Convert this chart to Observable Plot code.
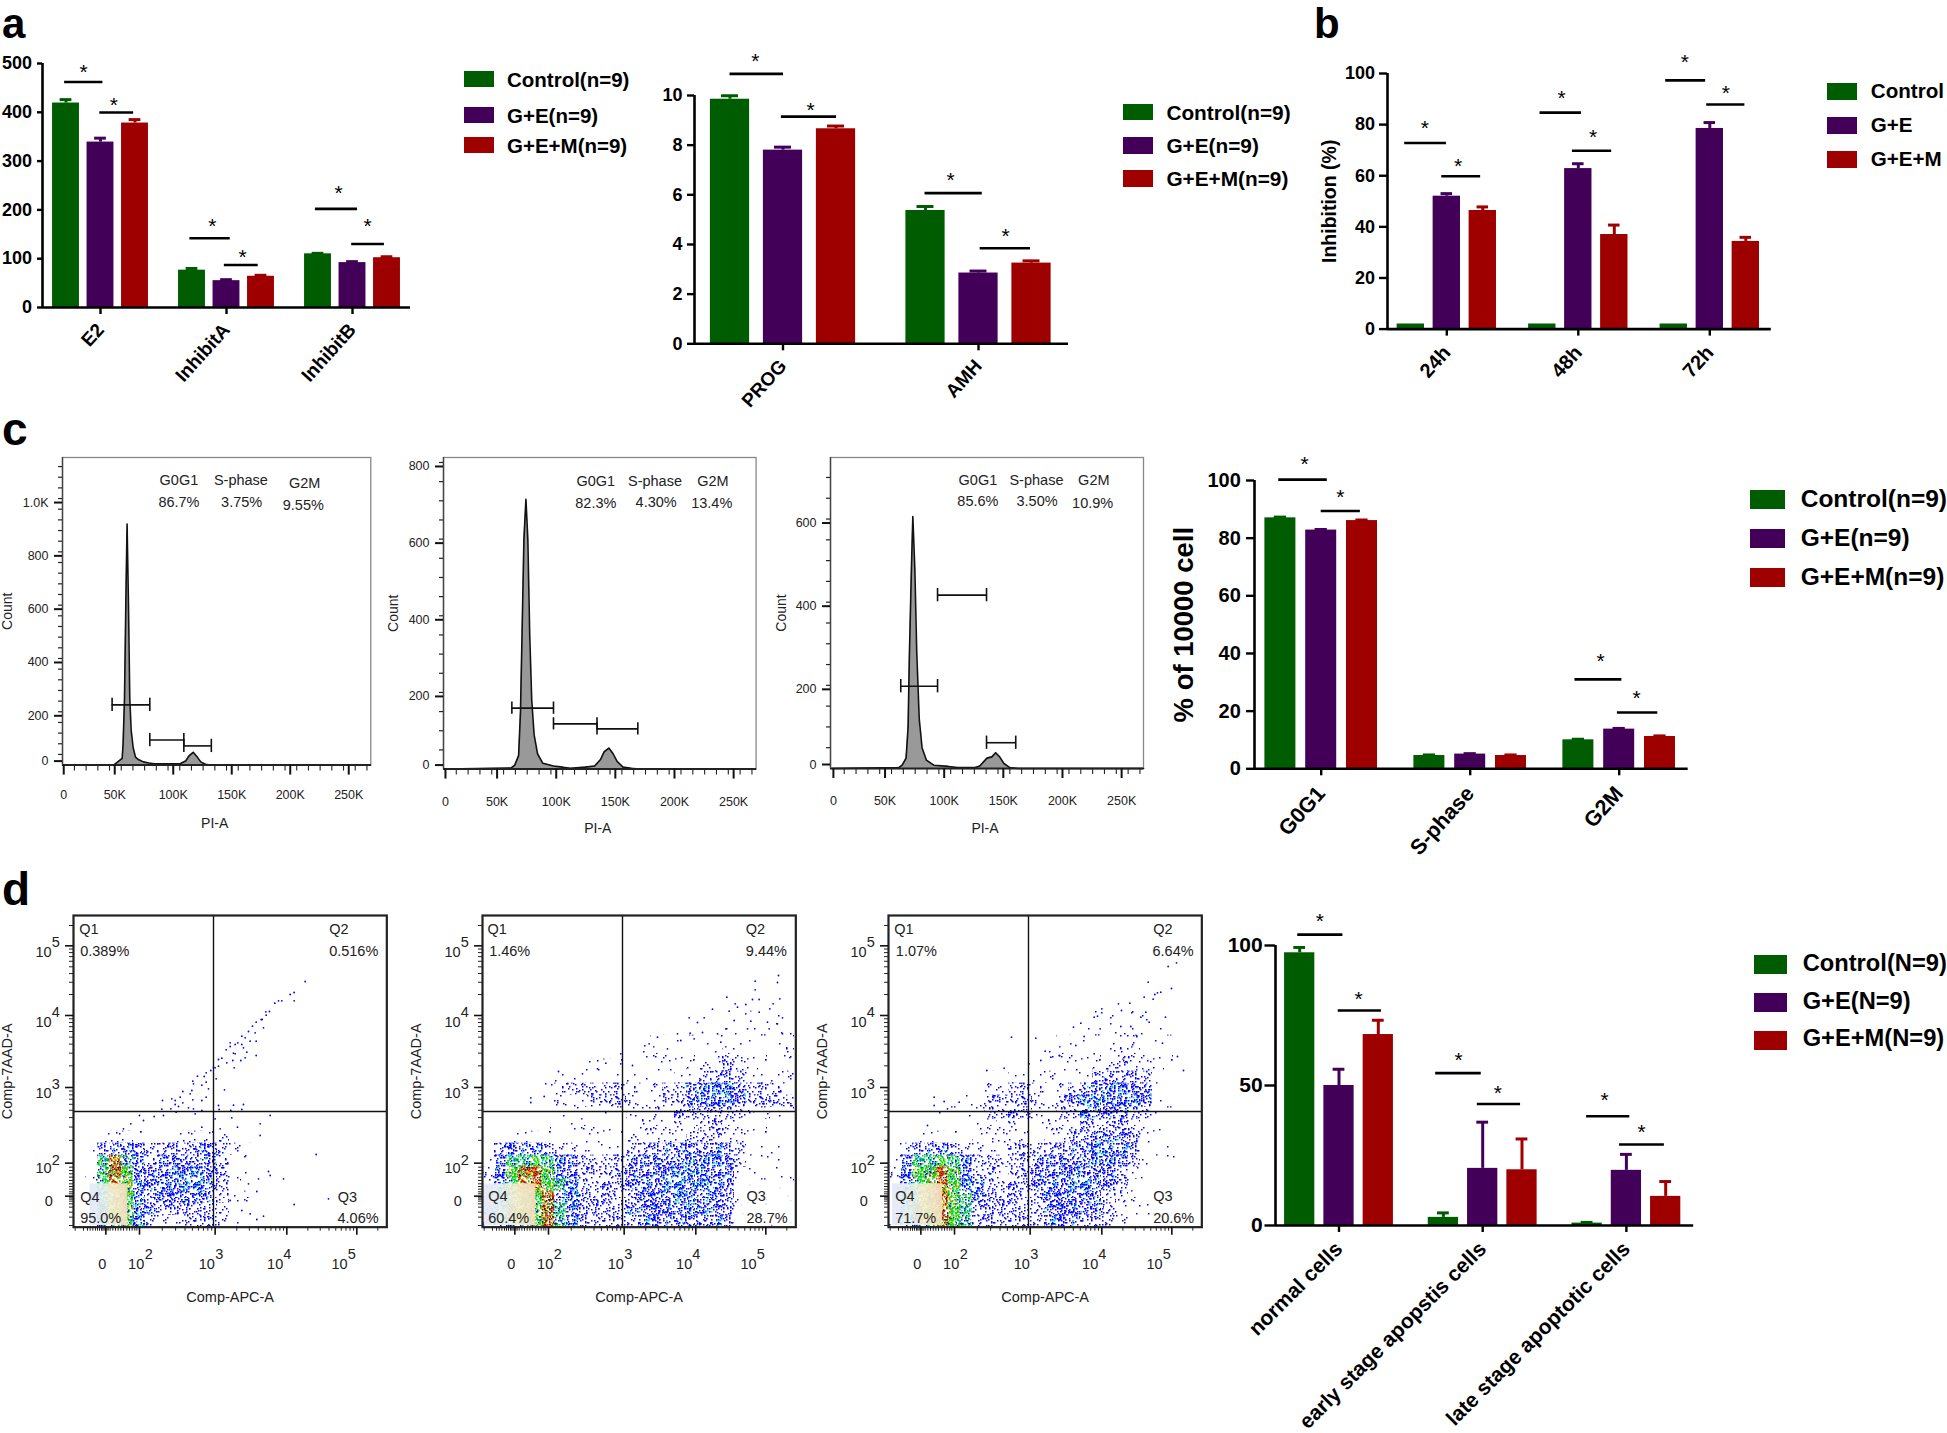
<!DOCTYPE html>
<html><head><meta charset="utf-8">
<script src="https://cdn.jsdelivr.net/npm/d3@7"></script>
<script src="https://cdn.jsdelivr.net/npm/@observablehq/plot@0.6"></script>
<style>
html,body{margin:0;background:#fff}
#page{position:relative;width:1947px;height:1433px;overflow:hidden;font-family:"Liberation Sans",Arial,sans-serif;color:#000}
.abs{position:absolute;white-space:nowrap}
</style></head><body><div id="page"></div>
<script>
// ---------- shared ----------
const groups = ["Control", "G+E", "G+E+M"];
const groupColors = ["#005c00", "#420058", "#9e0000"];
const FONT = '"Liberation Sans",Arial,sans-serif';

// ---------- panel a (left) ----------
const a1Cats = ["E2", "InhibitA", "InhibitB"];
const a1Control = [419, 76.5, 110];
const a1GE = [339, 55, 92];
const a1GEM = [378, 64, 102];
const a1ControlTop = [426, 80, 111];
const a1GETop = [347, 57, 94];
const a1GEMTop = [385, 66, 104];
const a1Sig = [[-0.04,1.07,462],[0.98,1.96,399.6],[3.59,4.76,142],[4.59,5.57,87],[7.23,8.45,202],[8.28,9.23,130]];
const a1Star = [[0.51,487],[1.39,419],[4.24,171],[5.12,108],[7.90,239],[8.74,171]];
// ---------- panel a (right) ----------
const a2Cats = ["PROG", "AMH"];
const a2Control = [9.85, 5.37];
const a2GE = [7.8, 2.85];
const a2GEM = [8.66, 3.25];
const a2ControlTop = [9.99, 5.53];
const a2GETop = [7.92, 2.93];
const a2GEMTop = [8.77, 3.34];
const a2Sig = [[0,1.01,10.87],[0.97,2.01,9.15],[3.68,4.76,6.07],[4.72,5.67,3.85]];
const a2Star = [[0.48,11.44],[1.52,9.5],[4.16,6.67],[5.2,4.43]];
// ---------- panel b ----------
const bCats = ["24h", "48h", "72h"];
const bControl = [2, 2, 2];
const bGE = [52, 62.8, 78.5];
const bGEM = [46.4, 37, 34.3];
const bControlTop = [2, 2, 2];
const bGETop = [53, 64.7, 80.8];
const bGEMTop = [47.8, 40.7, 35.9];
const bSig = [[-0.17,0.99,72.8],[0.86,1.94,59.8],[3.59,4.74,84.7],[4.49,5.58,69.8],[7.08,8.19,97.3],[8.22,9.28,87.9]];
const bStar = [[0.39,79.4],[1.31,64.5],[4.19,91],[5.06,75.7],[7.61,105.2],[8.75,93]];
// ---------- panel c bars ----------
const cCats = ["G0G1", "S-phase", "G2M"];
const cControl = [87.05, 4.6, 10.05];
const cGE = [82.8, 5.1, 13.76];
const cGEM = [86.1, 4.6, 11.2];
const cControlTop = [87.3, 4.8, 10.25];
const cGETop = [83, 5.25, 14];
const cGEMTop = [86.3, 4.8, 11.4];
const cSig = [[-0.04,1.15,100.3],[1.0,1.96,89.4],[7.22,8.37,31],[8.26,9.25,19.5]];
const cStar = [[0.59,106.4],[1.47,94.8],[7.85,38],[8.73,25]];
// ---------- panel d bars ----------
const dCats = ["normal cells", "early stage apopstis cells", "late stage apoptotic cells"];
const dControl = [97.4, 2.9, 0.85];
const dGE = [50, 20.4, 19.7];
const dGEM = [68.2, 19.9, 10.4];
const dControlTop = [99.3, 4.5, 1.1];
const dGETop = [55.8, 36.9, 25.4];
const dGEMTop = [73.3, 30.9, 15.7];
const dSig = [[-0.05,1.10,103.9],[0.98,2.08,76.8],[3.46,4.62,54.4],[4.52,5.62,43.4],[7.30,8.40,39],[8.14,9.28,28.9]];
const dStar = [[0.51,109.5],[1.50,81.5],[4.04,59.8],[5.04,47.9],[7.76,45.3],[8.70,34]];

// ---------- panel c histograms ----------
const h1X = [0,43.6,46.5,50.8,51.6,52.8,53.9,55,56.2,57.3,58.5,60.2,62.2,65,69,73.6,78,89,100.7,105,108,111.5,115,118,122,126,263];
const h1Y = [0,0,10,25,80,250,600,904,600,250,130,65,30,20,12,8,5,5,6,15,35,48,30,12,3,0,0];
const h2X = [0,56.5,59.4,62.7,64.3,65.6,67.2,68.9,70.5,72.1,73.8,75.8,78.7,83.2,92.2,100,106.6,118.9,127,132,135,139,142.6,146,151,158,164,263];
const h2Y = [0,3,10,35,150,350,600,704,600,350,180,90,40,15,8,5,2,5,8,25,45,55,40,20,5,2,0,0];
const h3X = [0,56,59,62.3,64,65,66.8,68,69.7,71.3,73.4,75.8,79.5,85.7,98,106,120,124.6,130.7,134.8,138,141.4,145,150,157,263];
const h3Y = [0,2,8,25,100,260,480,606,480,280,120,50,20,8,5,2,2,6,25,28,38,28,12,2,0,0];
const h1Gates = [[42.2,74.4,226],[74.4,103.5,94],[103.5,127,72]];
const h2Gates = [[57,92.2,159],[92.2,129,118],[129,163.5,105]];
const h3Gates = [[57.8,88.9,198],[88.9,130.3,417],[130.3,155,62]];
const h1Notes = [["G0G1",99.3,1069],["86.7%",99.3,987],["S-phase",152.3,1069],["3.75%",152.9,987],["G2M",206.8,1056],["9.55%",205.6,975]];
const h2Notes = [["G0G1",128,750],["82.3%",128,693],["S-phase",178,752],["4.30%",179,696],["G2M",227,750],["13.4%",226,693]];
const h3Notes = [["G0G1",123,694],["85.6%",123,642],["S-phase",172.5,694],["3.50%",173,642],["G2M",221,692],["10.9%",220,638]];
const xTicksK = [50,100,150,200,250];

// ---------- panel d cytometry (axes in display channels 0-940 / 0-935) ----------
const xChTicks = [198,425,640,850];
const yChTicks = [192,419,635,844];
const xChTen = [188,400,605,798];
const xChExp = [226,437,641,835];
const yChTen = [175,400,615,825];
const yChExp = [200,428,645,853];
const decadeLabels = ["2","3","4","5"];
// density levels per 12px cell, rows listed from the bottom of the plot upward
const d1Density = [
"01567532233321100000000000","01567543333321000000000000","01567544444431100000000000",
"01687544555431000000000000","01687444555431100000000000","01686434444431100000000000",
"01344433334432100000000000","00122111122221000000000000"];
const d2Density = [
"23567865333334444444311111","23567865333344444554311111","23577855333344445554311111",
"24688765333344455554421111","25788754333344455554422111","14667654333344445555432110",
"03444322222233344444331110","00111111111122222333221100","00000111111112222233221110",
"00000011111122223333332211","00000022233322233455543333","00000123333322233455543332",
"00000011111111112233332212","00000000111111111222322111","00000000000011111111221112",
"00000000000000111111111111","00000000000000000000111111","00000000000000000000001011"];
const d3Density = [
"13568763333334443332110000","13568763333334444432110000","13568764333344444432100000",
"14678754333344455443100000","25778753323344454443210000","14667653333344445554311100",
"02344322223333344554311100","00111112222212233444311000","00000011122122223343211000",
"00001112333322334444331100","00000112333322345555541100","00000001223321234455441000",
"00000000112112122343331000","00000000000001111223222111","00000000000001111122211100",
"00000000000000111112211100","00000000000000001111111000","00000000000000000111110000"];
// individually readable sparse events (display channel x, y measured from frame corner)
const d1Events = [[915,333],[882,366],[870,372],[882,391],[845,391],[835,391],[824,398],[808,423],[797,424],[798,434],[786,447],[783,447],[768,455],[757,467],[790,472],[745,483],[765,487],[725,497],[735,502],[713,517],[690,517],[750,512],[768,512],[725,522],[705,522],[690,528],[730,532],[678,538],[700,548],[705,550],[740,545],[768,555],[665,563],[655,567],[735,562],[722,570],[698,570],[680,577],[655,587],[640,590],[645,592],[702,592],[632,600],[618,607],[592,617],[578,632],[612,618],[648,625],[580,640],[618,635],[605,644],[575,660],[625,655],[673,658],[548,663],[540,680],[570,670],[618,680],[487,690],[515,685],[525,690],[525,702],[548,697],[578,688],[535,708],[605,690],[565,712],[580,715],[605,720],[655,705],[657,717],[700,704],[730,702],[725,717],[692,720],[485,716],[512,715],[528,725],[490,735],[462,738],[418,735],[392,760],[430,750],[370,775],[585,730],[645,745],[695,742],[810,735],[780,760],[780,795],[605,770],[712,770],[660,775],[948,852],[805,903],[810,915],[850,925],[775,925],[745,940],[770,963],[985,985],[882,1002],[750,1030],[790,1037],[770,1047],[725,1020],[690,990]].map(([x,y])=>[x-220,1070-y]);
const d2Events = [[1133,225],[1063,242],[1130,246],[1063,268],[978,290],[1137,295],[1055,297],[1075,297],[1003,310],[1035,312],[1117,310],[985,332],[1010,320],[1107,325],[935,326],[1035,340],[1075,335],[1145,352],[865,352],[910,352],[1050,362],[1100,365],[1000,360],[890,366],[1130,370],[975,385],[1040,385],[1105,385],[830,400],[868,398],[905,396],[950,400],[1145,400],[770,410],[745,430],[732,436],[800,445],[840,420],[880,415],[960,425],[1020,430],[615,488],[590,505],[473,513],[545,520],[390,592],[390,606],[430,588],[660,460],[660,490],[695,495]].map(([x,y])=>[x-245,980-y]);
const d3Events = [[1097,187],[1072,198],[1012,245],[1082,264],[1050,275],[1032,282],[1040,277],[1000,290],[1027,296],[923,310],[957,308],[873,325],[932,330],[1005,335],[900,352],[860,347],[850,350],[1064,350],[990,350],[1015,365],[810,368],[788,380],[930,378],[960,378],[868,385],[820,408],[675,413],[602,410],[780,430],[795,435],[850,460],[900,445],[1055,428],[1100,468],[703,452],[690,480],[720,470],[745,465],[1118,510],[528,510],[580,503],[655,490],[370,590],[370,615],[400,603],[445,605],[410,625],[350,675]].map(([x,y])=>[x-233,980-y]);
const d1Q = [["Q1",17,892],["0.389%",20,827],["Q2",767,892],["0.516%",767,827],["Q4",20,90],["95.0%",20,25],["Q3",793,90],["4.06%",792,25]];
const d2Q = [["Q1",15,892],["1.46%",20,827],["Q2",790,892],["9.44%",790,827],["Q4",17,92],["60.4%",17,25],["Q3",792,92],["28.7%",792,25]];
const d3Q = [["Q1",17,892],["1.07%",22,827],["Q2",794,892],["6.64%",792,827],["Q4",20,92],["71.7%",20,25],["Q3",794,92],["20.6%",794,25]];
const d1PaleQ4 = [[50,163,5,130]];
const d2PaleQ4 = [[5,160,5,130]];
const d3PaleQ4 = [[12,162,5,130]];
const d1PaleQ3 = [];
const d2PaleQ3 = [[773,935,5,130]];
const d3PaleQ3 = [[787,935,5,130]];

// ---------- helpers ----------
const page = document.getElementById("page");
function place(svg,left,top){
  svg.style.position="absolute";svg.style.left=left+"px";svg.style.top=top+"px";
  page.appendChild(svg);
}
function label(text,left,baseline,size){
  const el=document.createElement("div");el.className="abs";el.textContent=text;
  el.style.cssText+=`left:${left}px;top:${baseline-0.8465*size}px;font-size:${size}px;line-height:1;font-weight:bold`;
  page.appendChild(el);
}
function legend(names,swatchLeft,swatchWidth,tops,swatchHeight,textLeft,size,textDy){
  names.forEach((name,i)=>{
    const s=document.createElement("div");s.className="abs";
    s.style.cssText+=`left:${swatchLeft}px;top:${tops[i]}px;width:${swatchWidth}px;height:${swatchHeight}px;background:${groupColors[i]}`;
    page.appendChild(s);
    const t=document.createElement("div");t.className="abs";t.textContent=name;
    t.style.cssText+=`left:${textLeft}px;top:${tops[i]+swatchHeight/2-size/2-1+textDy}px;font-size:${size}px;line-height:${size}px;font-weight:bold`;
    page.appendChild(t);
  });
}
function barChart(c){
  const u=(i,j)=>i*c.catStep+j;
  const rows=c.cats.flatMap((cat,i)=>groups.map((g,j)=>({cat,group:g,u:u(i,j),value:c.means[j][i],top:c.tops[j][i]})));
  const errRows=rows.filter(d=>d.top>d.value);
  const uL=(c.axisX-c.firstX)/c.slot,uR=(c.endX-c.firstX)/c.slot;
  const ml=c.marginLeft??70,mt=c.marginTop??50,mb=c.marginBottom??110;
  const plotW=c.endX-c.axisX,plotH=c.y0-c.yTop;
  const tickVals=c.cats.map((_,i)=>u(i,1));
  const tickName=new Map(tickVals.map((v,i)=>[v,c.cats[i]]));
  const marks=[
    Plot.rect(rows,{x1:d=>d.u-c.barHalf,x2:d=>d.u+c.barHalf,y1:0,y2:"value",fill:"group"}),
    Plot.ruleX(errRows,{x:"u",y1:"value",y2:"top",stroke:"group",strokeWidth:3}),
    Plot.ruleY(errRows,{y:"top",x1:d=>d.u-c.capHalf,x2:d=>d.u+c.capHalf,stroke:"group",strokeWidth:3}),
    Plot.ruleY([0],{stroke:"#000",strokeWidth:2.6}),
    Plot.ruleX([uL],{y1:0,y2:c.yMax,stroke:"#000",strokeWidth:2.6}),
    Plot.axisY({ticks:c.yTicks,label:null,tickSize:c.tickLen,tickPadding:c.tickPad,strokeWidth:2.4,fontSize:c.fontSize}),
    Plot.axisX({ticks:tickVals,tickFormat:d=>tickName.get(d),tickRotate:c.xRotate??-48,label:null,tickSize:7,tickPadding:c.xPad,strokeWidth:2.4,fontSize:c.xFont}),
    Plot.ruleY(c.sig,{y:d=>d[2],x1:d=>d[0],x2:d=>d[1],stroke:"#000",strokeWidth:2.6}),
    Plot.text(c.star,{x:d=>d[0],y:d=>d[1],text:()=>"*",fontSize:21,fontWeight:"normal",dy:2})
  ];
  if(c.yLabel) marks.push(Plot.text([c.yLabel],{frameAnchor:"left",textAnchor:"middle",rotate:-90,dx:-c.yLabelOffset,fontSize:c.yLabelSize,fontWeight:"bold"}));
  const svg=Plot.plot({width:ml+plotW+10,height:mt+plotH+mb,marginLeft:ml,marginRight:10,marginTop:mt,marginBottom:mb,
    x:{domain:[uL,uR],label:null,axis:null},
    y:{domain:[0,c.yMax],label:null,axis:null},
    color:{domain:groups,range:groupColors},
    style:{fontFamily:FONT,fontSize:c.fontSize+"px",fontWeight:"bold",color:"#000",overflow:"visible",background:"transparent"},
    marks});
  place(svg,c.axisX-ml,c.yTop-mt);
}
function hist(c){
  const pts=c.xs.map((x,i)=>({x,y:c.ys[i]}));
  const ml=c.marginLeft,mt=10,mb=80,w=c.frameR-c.frameL,h=c.y0-c.frameT;
  const yMajorLabelled=c.yTicks.filter(d=>d>0);
  const fmt=d=>d>=1000?(d/1000).toFixed(1)+"K":String(d);
  const svg=Plot.plot({width:ml+w+10,height:mt+h+mb,marginLeft:ml,marginRight:10,marginTop:mt,marginBottom:mb,
    x:{domain:c.xDomain,label:null,axis:null},y:{domain:[0,c.yMax],label:null,axis:null},
    style:{fontFamily:FONT,fontSize:"12.5px",color:"#222",overflow:"visible",background:"transparent"},
    marks:[
      Plot.frame({stroke:"#888",strokeWidth:1.3}),
      Plot.areaY(pts,{x:"x",y:"y",fill:"#999"}),
      Plot.lineY(pts,{x:"x",y:"y",stroke:"#111",strokeWidth:1.6}),
      Plot.ruleY([0],{stroke:"#222",strokeWidth:2}),
      Plot.ruleX([c.xDomain[0]],{y1:0,y2:c.yMax,stroke:"#444",strokeWidth:1.4}),
      Plot.axisY({ticks:c.yMinor,tickSize:4,tickFormat:()=>"",label:null,strokeWidth:1.2,stroke:"#222"}),
      Plot.axisX({ticks:d3.range(10,270,10),tickSize:6,tickFormat:()=>"",label:null,strokeWidth:1.1,stroke:"#222"}),
      Plot.axisY({ticks:yMajorLabelled,tickFormat:fmt,tickSize:8,tickPadding:6,label:null,strokeWidth:2,stroke:"#111",dy:4}),
      Plot.axisY({ticks:[0],tickFormat:fmt,tickSize:8,tickPadding:6,label:null,strokeWidth:2,stroke:"#111",dy:-4}),
      Plot.axisX({ticks:xTicksK,tickFormat:d=>d+"K",tickSize:10,tickPadding:c.xPad,label:null,strokeWidth:2,stroke:"#111",dx:-6.5}),
      Plot.axisX({ticks:[0],tickFormat:()=>"0",tickSize:10,tickPadding:c.xPad,label:null,strokeWidth:2,stroke:"#111",dx:1}),
      Plot.ruleX(c.gates.flatMap(g=>[{x:g[0],y:g[2]},{x:g[1],y:g[2]}]),{x:"x",y1:d=>d.y-c.cap,y2:d=>d.y+c.cap,stroke:"#111",strokeWidth:1.6}),
      Plot.ruleY(c.gates,{y:d=>d[2],x1:d=>d[0],x2:d=>d[1],stroke:"#111",strokeWidth:1.6}),
      Plot.text(c.notes,{x:d=>d[1],y:d=>d[2],text:d=>d[0],fontSize:14.5,fill:"#222"}),
      Plot.text(["Count"],{frameAnchor:"left",textAnchor:"middle",rotate:-90,dx:-c.countOffset,fontSize:14}),
      Plot.text(["PI-A"],{frameAnchor:"bottom",dy:c.piOffset,dx:-2,fontSize:14})
    ]});
  place(svg,c.frameL-ml,c.frameT-mt);
}
// stipple textures standing in for the dense event clouds (a fill style, not data)
function makePatterns(){
  const NS="http://www.w3.org/2000/svg";
  const host=document.createElementNS(NS,"svg");
  host.setAttribute("width",0);host.setAttribute("height",0);host.style.position="absolute";
  const defs=document.createElementNS(NS,"defs");host.appendChild(defs);
  const SIZE=72;
  const frac=v=>v-Math.floor(v);
  const B="#0000ff";
  const spec={
    1:{n:40,cols:[B]},
    2:{n:125,cols:[B]},
    3:{n:520,cols:[B]},
    4:{n:1050,cols:[B,B,B,B,B,B,B,B,B,"#00c8f0"]},
    5:{n:1450,cols:[B,B,B,"#00d0f0",B,B,"#10e090",B]},
    6:{n:1900,cols:["#00e000","#00e000","#00d8e0",B,"#00e000",B,"#00e000"]},
    7:{n:2400,cols:["#00e000","#e8e800","#00e000","#00d000","#00c0a0","#00e000","#f08000","#00e000","#0000ff"]},
    8:{n:2700,cols:["#e00000","#f0e000","#20d020","#c00000","#f09000","#20d020","#e00000","#202000"]}
  };
  for(const k in spec){
    const s=spec[k];
    const p=document.createElementNS(NS,"pattern");
    p.setAttribute("id","lvl"+k);p.setAttribute("patternUnits","userSpaceOnUse");
    p.setAttribute("width",SIZE);p.setAttribute("height",SIZE);
    for(let i=0;i<s.n;i++){
      const r=document.createElementNS(NS,"rect");
      r.setAttribute("x",Math.floor(frac(Math.sin((i+1)*12.9898)*43758.5453)*SIZE));
      r.setAttribute("y",Math.floor(frac(Math.sin((i+1)*78.233)*24634.6345)*SIZE));
      r.setAttribute("width",1.5);r.setAttribute("height",1.5);
      r.setAttribute("fill",s.cols[i%s.cols.length]);
      p.appendChild(r);
    }
    defs.appendChild(p);
  }
  const g=document.createElementNS(NS,"linearGradient");g.setAttribute("id","paleQ4");
  [[0,"#e4e8fb"],[0.35,"#e2f0ea"],[0.62,"#f7efcb"],[1,"#f4dcc0"]].forEach(([o,c])=>{
    const st=document.createElementNS(NS,"stop");st.setAttribute("offset",o);st.setAttribute("stop-color",c);g.appendChild(st);
  });
  defs.appendChild(g);
  page.appendChild(host);
}
function logMinors(a,b){return [2,3,4,5,6,7,8,9].map(k=>a+(b-a)*Math.log10(k));}
function cyto(c){
  const ml=75,mt=5,mb=90,W=940/3,H=935/3;
  const cells=c.density.flatMap((row,r)=>Array.from(row,(ch,col)=>({col,r,lvl:+ch}))).filter(d=>d.lvl>0);
  const levels=[1,2,3,4,5,6,7,8];
  const cellMarks=levels.map(l=>Plot.rect(cells.filter(d=>d.lvl===l),{x1:d=>d.col*36,x2:d=>Math.min(940,d.col*36+36),y1:d=>d.r*36,y2:d=>d.r*36+36,fill:`url(#lvl${l})`}));
  const xMinor=[5,30,42,50,58,66,72,78,84,88,92,100,104,110,118,126,134,142,150,160,168,176,184,190,...logMinors(198,425),...logMinors(425,640),...logMinors(640,850),913];
  const yMinor=[5,30,45,60,70,78,84,88,92,100,106,114,122,130,140,150,160,170,180,...logMinors(192,419),...logMinors(419,635),...logMinors(635,844),905];
  const dec=(xs,ys)=>decadeLabels.map((t,i)=>({t,x:xs[i],y:ys[i]}));
  const svg=Plot.plot({width:ml+W+10,height:mt+H+mb,marginLeft:ml,marginRight:10,marginTop:mt,marginBottom:mb,
    x:{domain:[0,940],label:null,axis:null},y:{domain:[0,935],label:null,axis:null},
    style:{fontFamily:FONT,fontSize:"14.5px",color:"#222",overflow:"visible",background:"transparent"},
    marks:[
      ...cellMarks,
      Plot.rect(c.paleQ3,{x1:d=>d[0],x2:d=>d[1],y1:d=>d[2],y2:d=>d[3],fill:"#fff",fillOpacity:0.86}),
      Plot.rect(c.paleQ4,{x1:d=>d[0],x2:d=>d[1],y1:d=>d[2],y2:d=>d[3],fill:"url(#paleQ4)",fillOpacity:0.93}),
      Plot.dot(c.events,{x:d=>d[0],y:d=>d[1],r:0.9,fill:"#0000ff"}),
      Plot.ruleX([420],{y1:0,y2:935,stroke:"#111",strokeWidth:1.4}),
      Plot.ruleY([347],{x1:0,x2:940,stroke:"#111",strokeWidth:1.4}),
      Plot.frame({stroke:"#222",strokeWidth:2.2}),
      Plot.axisX({ticks:xMinor,tickSize:4,tickFormat:()=>"",label:null,strokeWidth:1,stroke:"#222"}),
      Plot.axisY({ticks:yMinor,tickSize:4,tickFormat:()=>"",label:null,strokeWidth:1,stroke:"#222"}),
      Plot.axisX({ticks:[97,...xChTicks],tickSize:8,tickFormat:()=>"",label:null,strokeWidth:1.6,stroke:"#111"}),
      Plot.axisY({ticks:[93,...yChTicks],tickSize:8,tickFormat:()=>"",label:null,strokeWidth:1.6,stroke:"#111"}),
      Plot.text(dec(xChTen,xChTen.map(()=>-113)),{x:"x",y:"y",text:()=>"10",fill:"#222"}),
      Plot.text(dec(xChExp,xChExp.map(()=>-82)),{x:"x",y:"y",text:"t",fill:"#222"}),
      Plot.text(dec(yChTen.map(()=>-90),yChTen),{x:"x",y:"y",text:()=>"10",fill:"#222"}),
      Plot.text(dec(yChExp.map(()=>-53),yChExp),{x:"x",y:"y",text:"t",fill:"#222"}),
      Plot.text(["0"],{x:86,y:-113,fill:"#222"}),
      Plot.text(["0"],{x:-74,y:77,fill:"#222"}),
      Plot.text(c.q,{x:d=>d[1],y:d=>d[2],text:d=>d[0],textAnchor:"start",fill:"#222"}),
      Plot.text(["Comp-7AAD-A"],{frameAnchor:"left",textAnchor:"middle",rotate:-90,dx:-66,fill:"#222"}),
      Plot.text(["Comp-APC-A"],{frameAnchor:"bottom",dy:75,fill:"#222"})
    ]});
  place(svg,c.frameL-ml,915-mt);
}

// ---------- build ----------
makePatterns();
label("a",2,38.5,42);label("b",1314,38.5,42);label("c",2,445,46);label("d",2,905,46);

barChart({cats:a1Cats,means:[a1Control,a1GE,a1GEM],tops:[a1ControlTop,a1GETop,a1GEMTop],sig:a1Sig,star:a1Star,
  axisX:42,endX:410,firstX:65.5,slot:34.5,catStep:126/34.5,barHalf:0.39,capHalf:0.17,
  y0:306.7,yTop:62.7,yMax:500,yTicks:[0,100,200,300,400,500],fontSize:18,xFont:19,tickLen:5,tickPad:5.5,xPad:12});
legend(["Control(n=9)","G+E(n=9)","G+E+M(n=9)"],464,30,[71,107,137],16,507,20.5,2);

barChart({cats:a2Cats,means:[a2Control,a2GE,a2GEM],tops:[a2ControlTop,a2GETop,a2GEMTop],sig:a2Sig,star:a2Star,
  axisX:694,endX:1068,firstX:729.5,slot:53,catStep:195.5/53,barHalf:0.37,capHalf:0.16,
  y0:343.3,yTop:95,yMax:10,yTicks:[0,2,4,6,8,10],fontSize:18,xFont:19,tickLen:7,tickPad:5,xPad:12});
legend(["Control(n=9)","G+E(n=9)","G+E+M(n=9)"],1122.6,30.5,[103.7,137,170],16.6,1166.4,20.8,2);

barChart({cats:bCats,means:[bControl,bGE,bGEM],tops:[bControlTop,bGETop,bGEMTop],sig:bSig,star:bStar,
  axisX:1386.7,endX:1770.5,firstX:1410,slot:36,catStep:131.5/36,barHalf:0.38,capHalf:0.16,
  y0:328.3,yTop:72.7,yMax:100,yTicks:[0,20,40,60,80,100],fontSize:18,xFont:20,tickLen:8,tickPad:4.5,xPad:13,
  yLabel:"Inhibition (%)",yLabelOffset:58,yLabelSize:19.5});
legend(["Control","G+E","G+E+M"],1826.6,30.5,[83,116.7,151],17.3,1870.8,20.6,1);

hist({xs:h1X,ys:h1Y,gates:h1Gates,notes:h1Notes,cap:25,frameL:61.7,frameR:370,frameT:456.7,y0:764.3,
  xDomain:[-0.2,263.3],yMax:1154,yTicks:[0,200,400,600,800,1000],yMinor:d3.range(40,1160,40),
  marginLeft:61,countOffset:54.7,piOffset:63,xPad:15});
hist({xs:h2X,ys:h2Y,gates:h2Gates,notes:h2Notes,cap:16,frameL:442.7,frameR:755.3,frameT:456.7,y0:768.3,
  xDomain:[-0.8,263.5],yMax:813,yTicks:[0,200,400,600,800],yMinor:d3.range(50,813,50),
  marginLeft:61,countOffset:50,piOffset:64,xPad:18});
hist({xs:h3X,ys:h3Y,gates:h3Gates,notes:h3Notes,cap:16,frameL:830,frameR:1143,frameT:457.3,y0:768.3,
  xDomain:[-1.6,263],yMax:748,yTicks:[0,200,400,600],yMinor:d3.range(50,748,50),
  marginLeft:61,countOffset:48.5,piOffset:64,xPad:18});

barChart({cats:cCats,means:[cControl,cGE,cGEM],tops:[cControlTop,cGETop,cGEMTop],sig:cSig,star:cStar,
  axisX:1253.7,endX:1687.4,firstX:1279.6,slot:40.8,catStep:149/40.8,barHalf:0.38,capHalf:0.15,
  y0:768.3,yTop:480,yMax:100,yTicks:[0,20,40,60,80,100],fontSize:20,xFont:21.5,tickLen:8,tickPad:5.7,xPad:14,
  yLabel:"% of 10000 cell",yLabelOffset:70,yLabelSize:27.5});
legend(["Control(n=9)","G+E(n=9)","G+E+M(n=9)"],1750.4,35,[490,529,567.7],19.3,1800.7,24.5,1);

cyto({density:d1Density,events:d1Events,q:d1Q,paleQ4:d1PaleQ4,paleQ3:d1PaleQ3,frameL:73.3});
cyto({density:d2Density,events:d2Events,q:d2Q,paleQ4:d2PaleQ4,paleQ3:d2PaleQ3,frameL:481.7});
cyto({density:d3Density,events:d3Events,q:d3Q,paleQ4:d3PaleQ4,paleQ3:d3PaleQ3,frameL:887.7});

barChart({cats:dCats,means:[dControl,dGE,dGEM],tops:[dControlTop,dGETop,dGEMTop],sig:dSig,star:dStar,
  axisX:1274.8,endX:1693,firstX:1299,slot:39.3,catStep:143.7/39.3,barHalf:0.385,capHalf:0.15,
  y0:1225.2,yTop:945.2,yMax:100,yTicks:[0,50,100],fontSize:21,xFont:21,tickLen:10.5,tickPad:2.3,xPad:13,xRotate:-45,marginBottom:215});
legend(["Control(N=9)","G+E(N=9)","G+E+M(N=9)"],1753.6,33.8,[955.4,992.9,1030.6],19,1802.7,23.7,0);
</script></body></html>
